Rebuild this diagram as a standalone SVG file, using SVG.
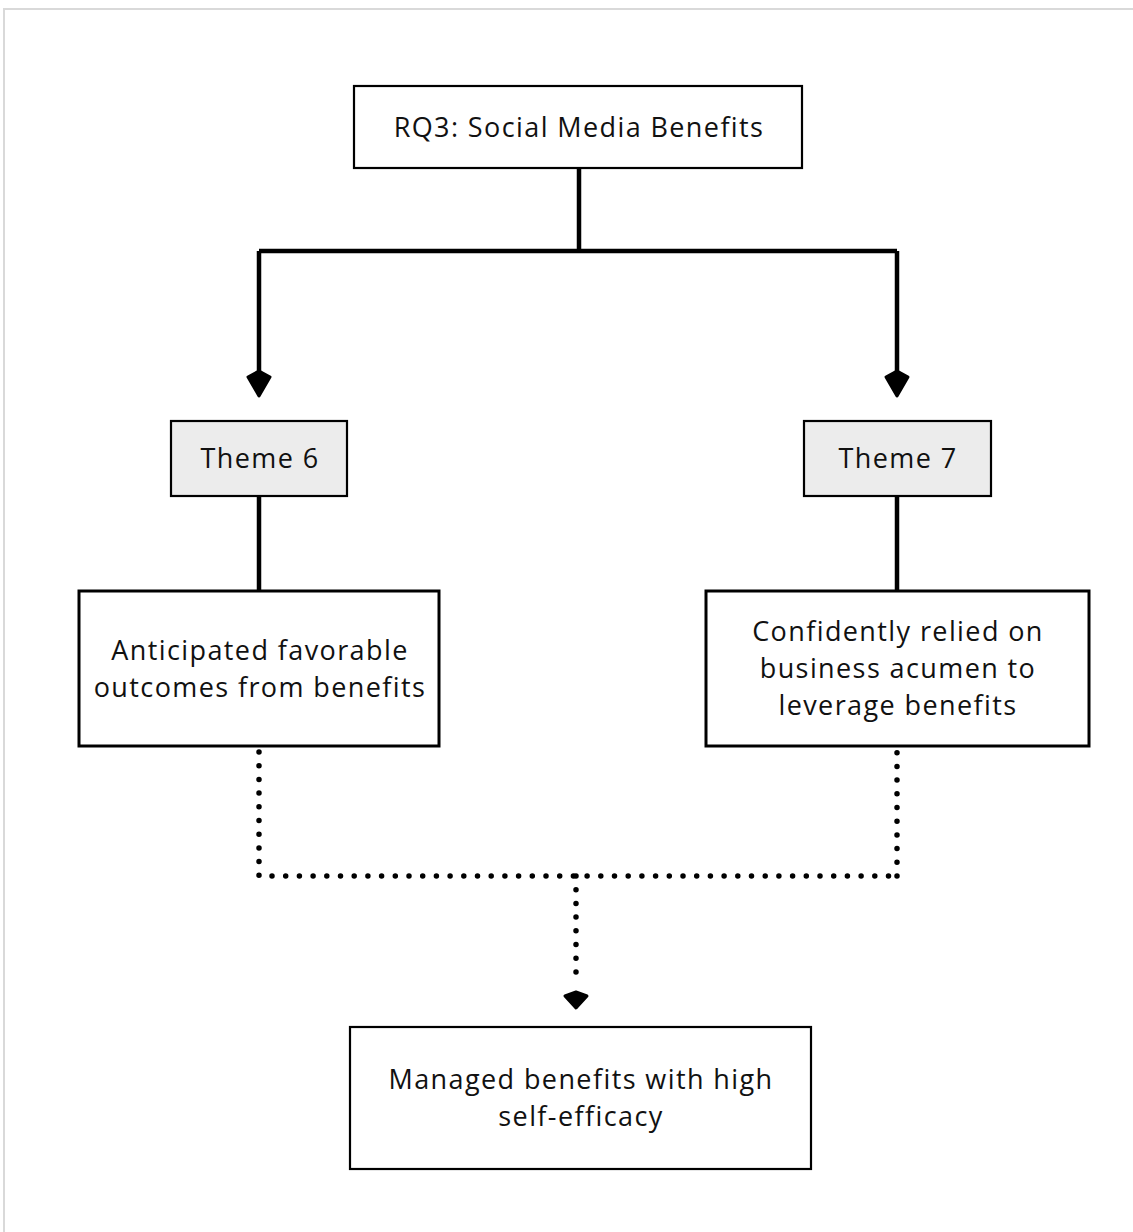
<svg xmlns="http://www.w3.org/2000/svg" width="1133" height="1232" viewBox="0 0 1133 1232">
<style>
.box{fill:#fff;stroke:#000;stroke-width:3}
.thin{stroke-width:2.2}
.theme{fill:#ececec;stroke:#000;stroke-width:2.2}
.t{font-family:"Open Sans","Liberation Sans",sans-serif;font-size:27px;letter-spacing:1.4px;fill:#111;text-anchor:middle}
.solid{fill:none;stroke:#000;stroke-width:4.5;stroke-linejoin:miter}
.dot{fill:none;stroke:#000;stroke-width:5.5;stroke-linecap:round;stroke-dasharray:0 13.7}
.head{fill:#000;stroke:#000;stroke-width:3;stroke-linejoin:round}
</style>
<rect x="4" y="9" width="1140" height="1240" fill="#fff" stroke="#d9d9d9" stroke-width="2"/>
<g id="connectors">
<path class="solid" d="M579,168 V251"/>
<path class="solid" d="M259,251 H897"/>
<path class="solid" d="M259,251 V378"/>
<path class="solid" d="M897,251 V378"/>
<path class="head" d="M259,371 L248,377 L259,396 L270,377 Z"/>
<path class="head" d="M897,371 L886,377 L897,396 L908,377 Z"/>
<path class="solid" d="M259,496 V591"/>
<path class="solid" d="M897,496 V591"/>
<path class="dot" d="M259,752 V876 H897"/>
<path class="dot" d="M897,876 V752"/>
<path class="dot" d="M576,876 V985"/>
<path class="head" d="M576,992 L565,996 L576,1008 L587,996 Z"/>
</g>
<g id="rq3">
<rect class="box thin" x="354" y="86" width="448" height="82"/>
<text class="t" x="579" y="137">RQ3: Social Media Benefits</text>
</g>
<g id="theme6">
<rect class="theme" x="171" y="421" width="176" height="75"/>
<text class="t" x="260" y="468">Theme 6</text>
</g>
<g id="theme7">
<rect class="theme" x="804" y="421" width="187" height="75"/>
<text class="t" x="898" y="468">Theme 7</text>
</g>
<g id="outcomes">
<rect class="box" x="79" y="591" width="360" height="155"/>
<text class="t" x="260" y="660">Anticipated favorable</text>
<text class="t" x="260" y="697">outcomes from benefits</text>
</g>
<g id="acumen">
<rect class="box" x="706" y="591" width="383" height="155"/>
<text class="t" x="898" y="641">Confidently relied on</text>
<text class="t" x="898" y="678">business acumen to</text>
<text class="t" x="898" y="715">leverage benefits</text>
</g>
<g id="managed">
<rect class="box thin" x="350" y="1027" width="461" height="142"/>
<text class="t" x="581" y="1089">Managed benefits with high</text>
<text class="t" x="581" y="1126">self-efficacy</text>
</g>
</svg>
